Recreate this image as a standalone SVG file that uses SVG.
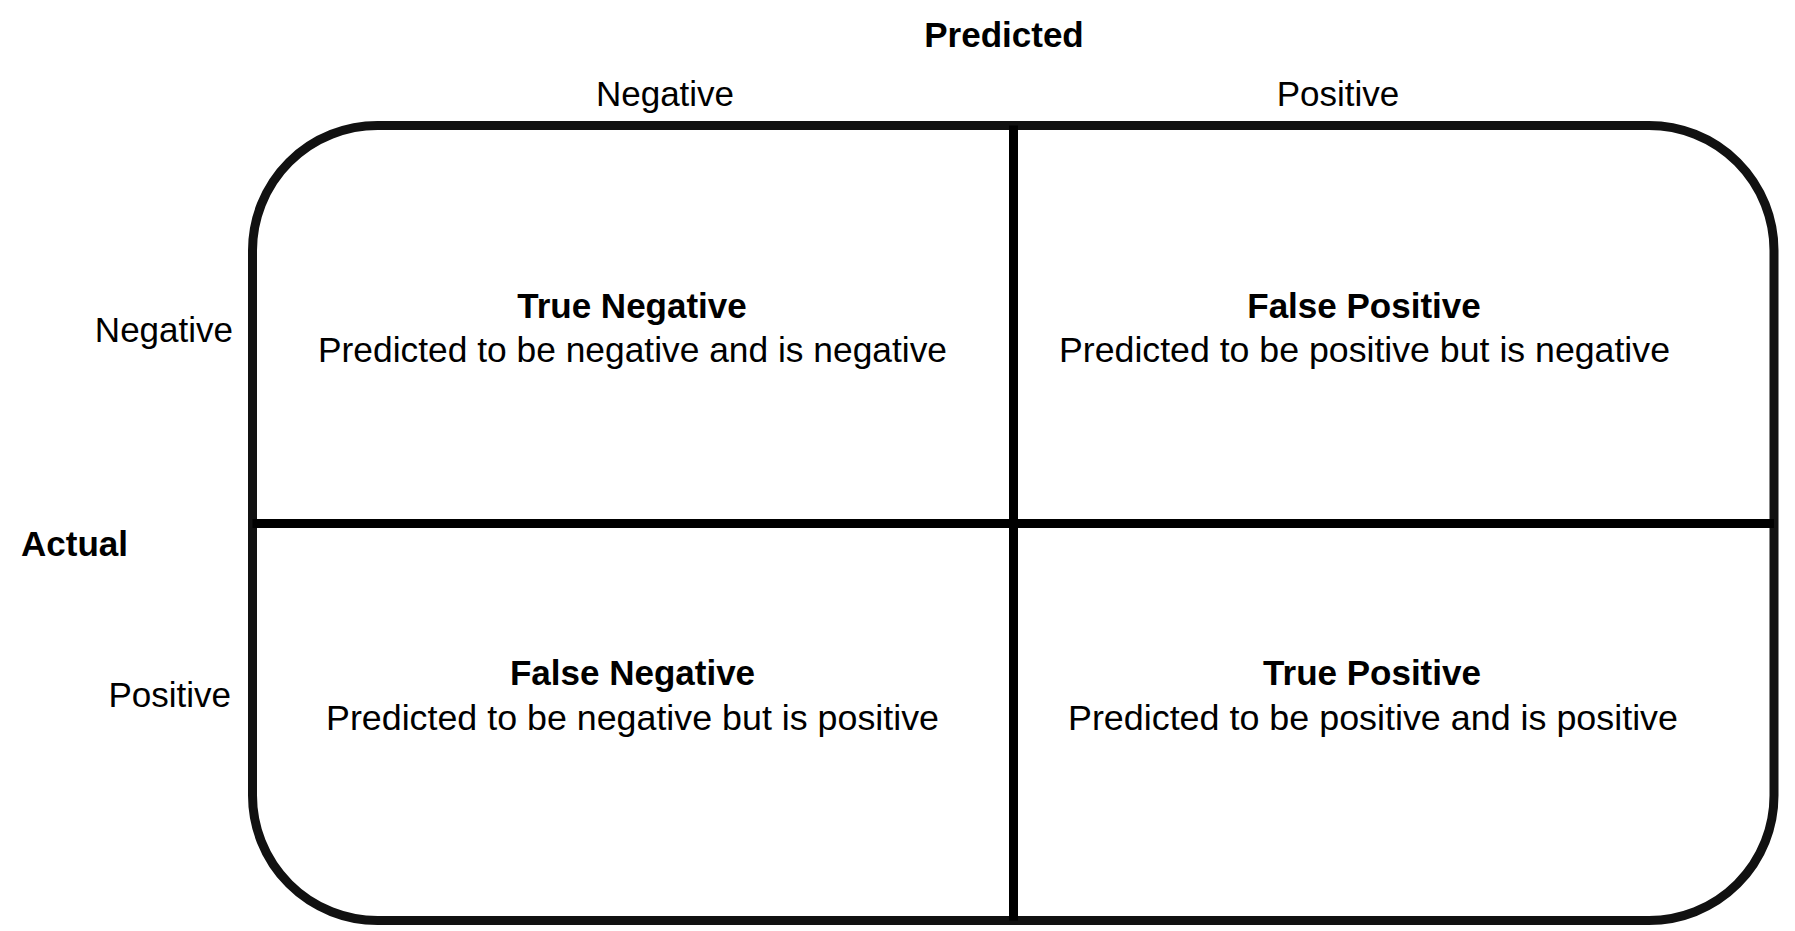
<svg xmlns="http://www.w3.org/2000/svg" width="1795" height="931" viewBox="0 0 1795 931">
  <style>
    text { font-family: "Liberation Sans", Arial, sans-serif; font-size: 35px; fill: #000; }
    .b { font-weight: bold; }
    .m { text-anchor: middle; }
    .r { text-anchor: end; }
    .frame { fill: none; stroke: #111; stroke-width: 9; }
    .div { stroke: #000; stroke-width: 9; fill: none; }
  </style>
  <rect width="1795" height="931" fill="#fff"/>

  <!-- axis titles and class labels -->
  <g id="axis-predicted">
    <text class="b m" x="1004" y="47">Predicted</text>
    <text class="m" x="665" y="106">Negative</text>
    <text class="m" x="1338" y="106">Positive</text>
  </g>
  <g id="axis-actual">
    <text class="r" x="233" y="342">Negative</text>
    <text class="b" x="21" y="556">Actual</text>
    <text class="r" x="231" y="707">Positive</text>
  </g>

  <!-- outer frame -->
  <g id="matrix-frame">
    <rect class="frame" x="252.5" y="125.5" width="1521.5" height="795" rx="125" ry="125"/>
  </g>

  <!-- cell dividers -->
  <g id="connectors">
    <line class="div" x1="1013.5" y1="125.5" x2="1013.5" y2="920.5"/>
    <line class="div" x1="252.5" y1="523.5" x2="1774" y2="523.5"/>
  </g>

  <!-- quadrants -->
  <g id="true-negative">
    <text class="b m" x="632" y="318">True Negative</text>
    <text class="m" x="632.5" y="362" textLength="629" lengthAdjust="spacingAndGlyphs">Predicted to be negative and is negative</text>
  </g>
  <g id="false-positive">
    <text class="b m" x="1364" y="318">False Positive</text>
    <text class="m" x="1364.5" y="362" textLength="611" lengthAdjust="spacingAndGlyphs">Predicted to be positive but is negative</text>
  </g>
  <g id="false-negative">
    <text class="b m" x="632.5" y="685">False Negative</text>
    <text class="m" x="632.5" y="730" textLength="613" lengthAdjust="spacingAndGlyphs">Predicted to be negative but is positive</text>
  </g>
  <g id="true-positive">
    <text class="b m" x="1372" y="685">True Positive</text>
    <text class="m" x="1373" y="730" textLength="610" lengthAdjust="spacingAndGlyphs">Predicted to be positive and is positive</text>
  </g>
</svg>
